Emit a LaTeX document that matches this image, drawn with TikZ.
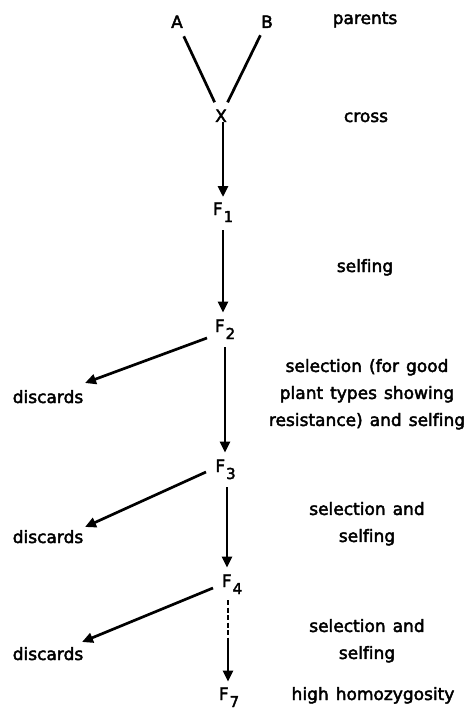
\documentclass[tikz,border=0pt]{standalone}
\usepackage{fontspec}
\setmainfont{DejaVu Sans}[WordSpace=1.3, FakeBold=2.6, Ligatures={NoCommon}]
\usetikzlibrary{arrows.meta,calc}
% generation label: F with a lowered index
\newcommand\gen[1]{F\kern1pt\raisebox{-7pt}{\fontsize{15}{15}\selectfont #1}}
\begin{document}
\begin{tikzpicture}[x=1pt,y=-1pt,
  lbl/.style={inner sep=0pt, outer sep=0pt, anchor=base, font=\fontsize{17}{27}\selectfont},
  note/.style={lbl, anchor=north, align=center},
  link/.style={line width=2.7pt},
  arr/.style={link, -{Triangle[length=11pt,width=10pt]}},
  gap/.style={shorten <=8pt, shorten >=7pt},
]
\useasboundingbox (0,0) rectangle (466,711);

% parents and cross
\node[lbl] (A) at (177,28) {A};
\node[lbl] (B) at (267,28) {B};
\node[lbl] (X) at (221,122) {X};

% generations
\node[lbl] (F1) at (223,215) {\gen{1}};
\node[lbl] (F2) at (225,332) {\gen{2}};
\node[lbl] (F3) at (225.5,472) {\gen{3}};
\node[lbl] (F4) at (232,587) {\gen{4}};
\node[lbl] (F7) at (229,700) {\gen{7}};

% discarded lines
\node[lbl] (D1) at (48,403) {discards};
\node[lbl] (D2) at (48,543) {discards};
\node[lbl] (D3) at (48,660) {discards};

% stage descriptions
\node[lbl] (tparents) at (365,24) {parents};
\node[lbl] (tcross) at (366,122) {cross};
\node[lbl] (tself) at (365,272) {selfing};
\node[note] (tsel1) at (367,359) {selection (for good\\plant types showing\\resistance) and selfing};
\node[note] (tsel2) at (367,502) {selection and\\selfing};
\node[note] (tsel3) at (367,619) {selection and\\selfing};
\node[lbl] (thomo) at (373,700) {high homozygosity};

% crossing lines
\draw[link, shorten <=16pt, shorten >=15pt] (A.center) -- (X.center);
\draw[link, shorten <=15pt, shorten >=15pt] (B.center) -- (X.center);

% selfing chain
\draw[arr, shorten >=5.6pt] (X.south -| F1.north) -- (F1.north);
\draw[arr, gap] (F1.south) -- (F1.south |- F2.north);
\draw[arr, gap] (F2.south) -- (F2.south |- F3.north);
\draw[arr, gap] ($(F3.south)+(1.5,0)$) -- ($(F3.south |- F4.north)+(1.5,0)$);
\coordinate (F4s) at ($(F4.south)+(-4,0)$);
\coordinate (F7n) at (F4s |- F7.north);
\coordinate (brk) at ($(F4s)!0.48!(F7n)$);
\draw[link, dash pattern=on 5pt off 2.5pt, shorten <=6pt] (F4s) -- (brk);
\draw[arr, shorten >=6pt] (brk) -- (F7n);

% discards
\draw[arr] ($(F2.base)+(-18,6)$) -- ($(D1.base)+(37,-20)$);
\draw[arr] ($(F3.base)+(-19.5,0)$) -- ($(D2.base)+(37,-16)$);
\draw[arr] ($(F4.base)+(-19,1)$) -- ($(D3.base)+(34,-18)$);
\end{tikzpicture}
\end{document}
